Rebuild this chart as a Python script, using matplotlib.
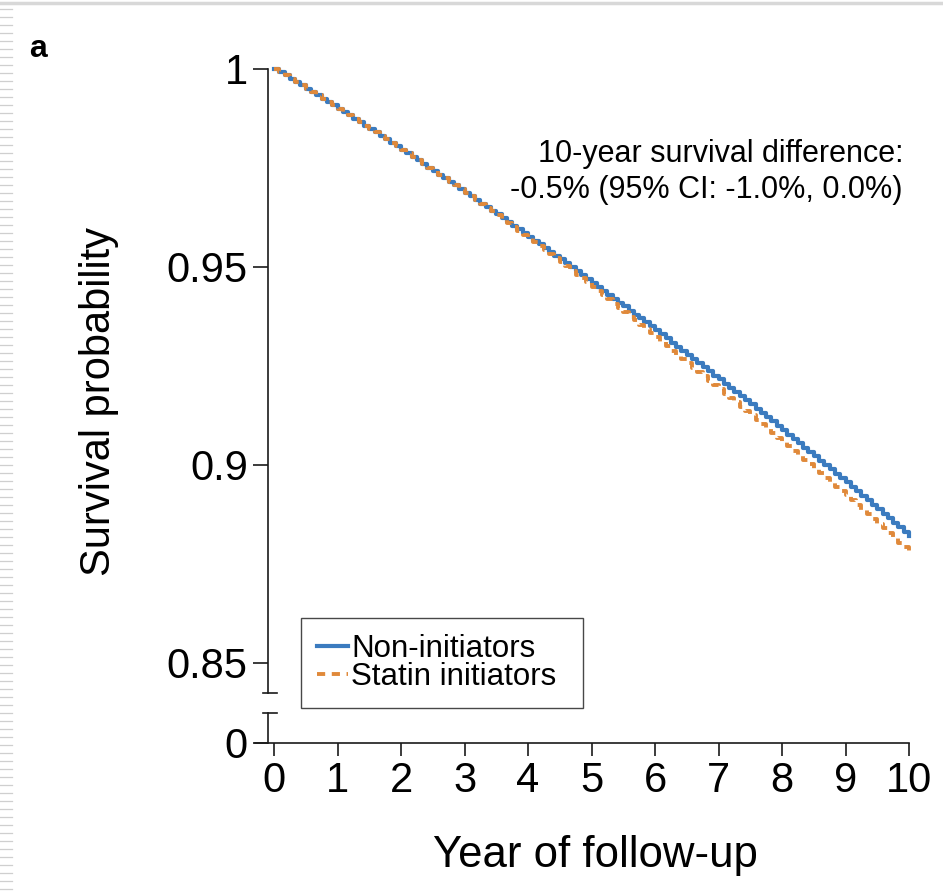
import matplotlib
matplotlib.use("Agg")
import matplotlib.pyplot as plt
from matplotlib.lines import Line2D

plt.rcParams['font.family'] = ['Liberation Sans', 'DejaVu Sans']

# monthly survival estimates (month 0..120)
months = list(range(121))
non_initiators = [
    1.0000, 0.9992, 0.9984, 0.9975, 0.9967, 0.9959, 0.9950, 0.9942, 0.9934, 0.9925, 0.9917, 0.9908,
    0.9900, 0.9891, 0.9883, 0.9874, 0.9866, 0.9857, 0.9848, 0.9840, 0.9831, 0.9822, 0.9814, 0.9805,
    0.9796, 0.9787, 0.9778, 0.9769, 0.9760, 0.9751, 0.9743, 0.9733, 0.9724, 0.9715, 0.9706, 0.9697,
    0.9688, 0.9679, 0.9670, 0.9660, 0.9651, 0.9642, 0.9633, 0.9623, 0.9614, 0.9604, 0.9595, 0.9585,
    0.9576, 0.9566, 0.9557, 0.9547, 0.9538, 0.9528, 0.9519, 0.9509, 0.9499, 0.9489, 0.9480, 0.9470,
    0.9460, 0.9450, 0.9440, 0.9430, 0.9420, 0.9410, 0.9401, 0.9390, 0.9380, 0.9370, 0.9360, 0.9350,
    0.9340, 0.9330, 0.9320, 0.9309, 0.9299, 0.9289, 0.9279, 0.9268, 0.9258, 0.9247, 0.9237, 0.9226,
    0.9216, 0.9205, 0.9195, 0.9184, 0.9174, 0.9163, 0.9153, 0.9142, 0.9131, 0.9120, 0.9110, 0.9099,
    0.9088, 0.9077, 0.9066, 0.9055, 0.9044, 0.9033, 0.9022, 0.9011, 0.9000, 0.8989, 0.8978, 0.8967,
    0.8956, 0.8945, 0.8934, 0.8922, 0.8911, 0.8900, 0.8888, 0.8877, 0.8866, 0.8854, 0.8843, 0.8831,
    0.8820,
]
statin_initiators = [
    1.0000, 0.9992, 0.9984, 0.9975, 0.9967, 0.9959, 0.9950, 0.9942, 0.9934, 0.9925, 0.9917, 0.9908,
    0.9900, 0.9891, 0.9883, 0.9874, 0.9866, 0.9857, 0.9848, 0.9840, 0.9831, 0.9822, 0.9814, 0.9805,
    0.9796, 0.9787, 0.9778, 0.9769, 0.9760, 0.9751, 0.9743, 0.9733, 0.9724, 0.9715, 0.9706, 0.9697,
    0.9688, 0.9679, 0.9670, 0.9659, 0.9650, 0.9641, 0.9632, 0.9621, 0.9612, 0.9602, 0.9592, 0.9582,
    0.9573, 0.9562, 0.9553, 0.9542, 0.9532, 0.9522, 0.9512, 0.9502, 0.9491, 0.9481, 0.9471, 0.9461,
    0.9450, 0.9439, 0.9429, 0.9418, 0.9407, 0.9397, 0.9387, 0.9375, 0.9365, 0.9354, 0.9343, 0.9333,
    0.9322, 0.9311, 0.9301, 0.9289, 0.9279, 0.9268, 0.9257, 0.9246, 0.9235, 0.9224, 0.9213, 0.9202,
    0.9191, 0.9180, 0.9169, 0.9158, 0.9147, 0.9136, 0.9126, 0.9114, 0.9103, 0.9091, 0.9081, 0.9069,
    0.9058, 0.9047, 0.9036, 0.9024, 0.9013, 0.9002, 0.8990, 0.8979, 0.8968, 0.8957, 0.8945, 0.8934,
    0.8923, 0.8911, 0.8900, 0.8887, 0.8876, 0.8864, 0.8851, 0.8840, 0.8828, 0.8816, 0.8804, 0.8792,
    0.8780,
]
years = [m / 12 for m in months]

x_ticks = list(range(11))
y_ticks = [0.85, 0.9, 0.95, 1.0]
y_tick_labels = ['0.85', '0.9', '0.95', '1']
annotation = '10-year survival difference:\n-0.5% (95% CI: -1.0%, 0.0%)'

blue = '#3b7bbf'
orange = '#e0893a'
spine_col = '#1a1a1a'

W, H = 943, 893
fig = plt.figure(figsize=(W / 100, H / 100), dpi=100)

def fx(px):
    return px / W

def fy(py):
    return (H - py) / H

left, right = 255, 909
ax = fig.add_axes([fx(left), fy(693), fx(right - left), fy(69) - fy(693)])
axb = fig.add_axes([fx(left), fy(743), fx(right - left), fy(713) - fy(743)])

xmin = -(274 - left) / 63.5
spine_frac = (268 - left) / (right - left)

for a in (ax, axb):
    a.set_xlim(xmin, 10)
    a.spines['right'].set_visible(False)
    a.spines['top'].set_visible(False)
    a.spines['left'].set_position(('axes', spine_frac))
    for s in a.spines.values():
        s.set_color(spine_col)
        s.set_linewidth(1.2)
    a.tick_params(axis='y', direction='out', length=11, width=1.2, color=spine_col,
                  labelsize=30, pad=3.5)
    a.tick_params(axis='x', direction='out', length=9.5, width=1.2, color=spine_col,
                  labelsize=30, pad=3.5)

ax.spines['bottom'].set_visible(False)
ax.set_xticks([])
ax.set_ylim(1 - 624 / 3960, 1.0)
ax.set_yticks(y_ticks)
ax.set_yticklabels(y_tick_labels)

axb.set_ylim(0, 1)
axb.set_yticks([0])
axb.set_yticklabels(['0'])
axb.set_xticks(x_ticks)
axb.set_xticklabels([str(t) for t in x_ticks])

# axis break caps
c0, c1 = (263 - left) / (right - left), (277 - left) / (right - left)
ax.plot([c0, c1], [0, 0], transform=ax.transAxes, color=spine_col, lw=1.2, clip_on=False)
axb.plot([c0, c1], [1, 1], transform=axb.transAxes, color=spine_col, lw=1.2, clip_on=False)

ax.plot(years, non_initiators, drawstyle='steps-post', color=blue, lw=3.0,
        clip_on=False, label='Non-initiators')
ax.plot(years, statin_initiators, drawstyle='steps-post', color=orange, lw=2.8,
        dashes=(2.1, 1.7), clip_on=False, label='Statin initiators')

leg = ax.legend(loc='upper left',
                bbox_to_anchor=(fx(301), fy(709), fx(583) - fx(301), fy(618) - fy(709)),
                bbox_transform=fig.transFigure, mode='expand', fontsize=22.5,
                frameon=True, fancybox=False, edgecolor=spine_col,
                handlelength=1.0, handletextpad=0.1, borderpad=0.5,
                labelspacing=-0.04, borderaxespad=0)
leg.get_frame().set_linewidth(1.0)

ax.set_ylabel('Survival probability', fontsize=30)
ax.yaxis.set_label_coords(fx(119), fy(402), transform=fig.transFigure)
axb.set_xlabel('Year of follow-up', fontsize=31.5)
axb.xaxis.set_label_coords(fx(595), fy(835), transform=fig.transFigure)

fig.text(fx(903), fy(172), annotation, fontsize=22, ha='right', va='center',
         multialignment='right', linespacing=1.3)
fig.text(fx(29), fy(49), 'a', fontsize=23, fontweight='bold', va='center', ha='left')

# page decorations: top rule and left dashed strip
fig.add_artist(Line2D([0, 1], [fy(3), fy(3)], transform=fig.transFigure,
                      color='#d8d8d8', lw=2.5))
for py in range(9, H, 8):
    fig.add_artist(Line2D([0, fx(12)], [fy(py), fy(py)], transform=fig.transFigure,
                          color='#cfcfcf', lw=0.9))

fig.savefig('out.png', dpi=100)
